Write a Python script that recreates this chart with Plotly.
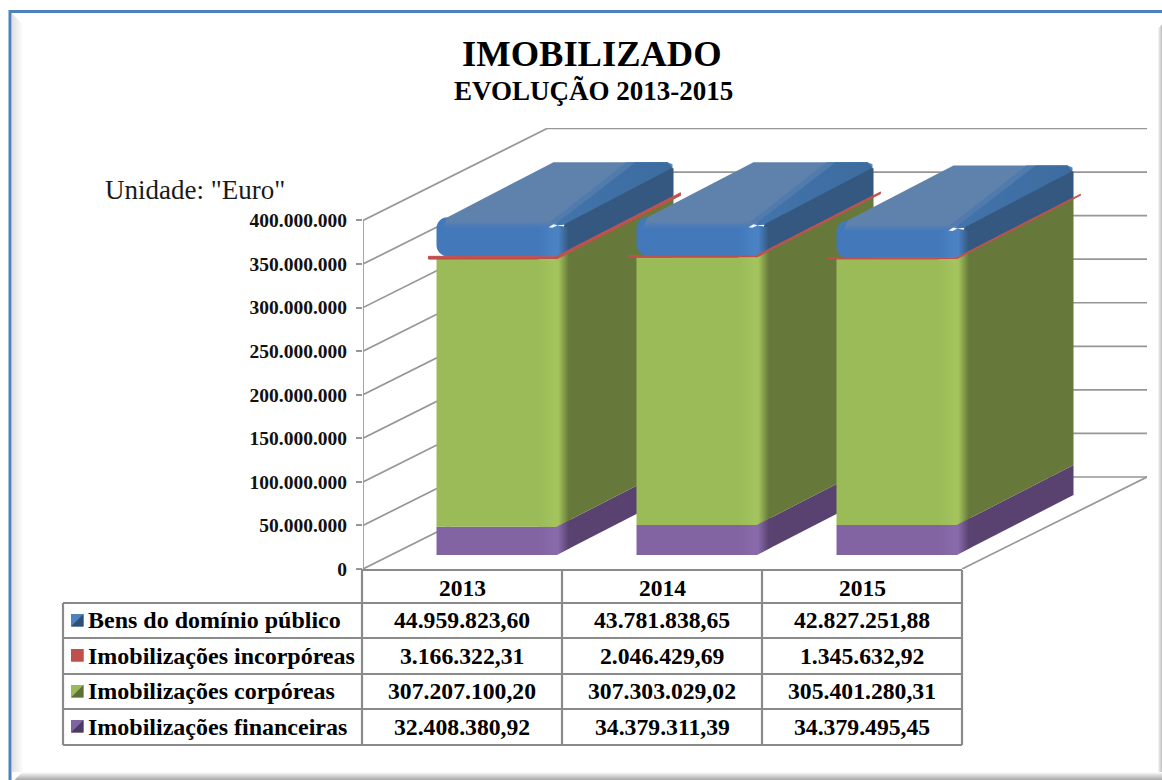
import plotly.graph_objects as go

# ---------- data ----------
years = ["2013", "2014", "2015"]
tick_values = [0, 50e6, 100e6, 150e6, 200e6, 250e6, 300e6, 350e6, 400e6]
tick_labels = ["0", "50.000.000", "100.000.000", "150.000.000", "200.000.000",
               "250.000.000", "300.000.000", "350.000.000", "400.000.000"]
series_names = ["Bens do domínio público", "Imobilizações incorpóreas",
                "Imobilizações corpóreas", "Imobilizações financeiras"]
bens_publicos = [44959823.60, 43781838.65, 42827251.88]
incorporeas = [3166322.31, 2046429.69, 1345632.92]
corporeas = [307207100.20, 307303029.02, 305401280.31]
financeiras = [32408380.92, 34379311.39, 34379495.45]

W, H = 1162, 780
FONT = "Liberation Serif"
GRID = "#969696"
TBL = "#8a8a8a"

# ---------- scale helpers (pixels -> axis units) ----------
PX_X = 200.0          # px per category
PX_M = 0.8713         # px per million
def ux(p): return p / PX_X
def uv(p): return p / PX_M * 1e6
def X(p): return p / W
def Y(p): return 1 - p / H

X_LEFT, X_RIGHT, Y_TOP, Y_BOT = 363, 1147, 128, 569
x_range = [-0.5, -0.5 + ux(X_RIGHT - X_LEFT)]
y_range = [0, uv(Y_BOT - Y_TOP)]

fig = go.Figure()

# ---------- walls / gridlines ----------
wall_dx, wall_dv = ux(184), uv(92)
gx, gy = [-0.5, -0.5, None], [0, 400e6, None]
for v in tick_values:
    gx += [-0.5, -0.5 + wall_dx, x_range[1], None]
    gy += [v, v + wall_dv, v + wall_dv, None]
gx += [-0.5 + ux(599), x_range[1], None]
gy += [0, wall_dv, None]
fig.add_trace(go.Scatter(x=gx, y=gy, mode="lines", line=dict(color=GRID, width=1.7),
                         hoverinfo="skip", showlegend=False))

# ---------- bars ----------
BAR_OFF = ux(33.5)      # front-left shift inside the category
BAR_W = ux(120)
FLOOR = uv(14)
dx, dv = ux(117), uv(60)
S = 0.513               # pixel slope of the depth direction

STYLES = {
    "fin": dict(front="#8264a3", light="#8869a9", side="#59426f"),
    "cor": dict(front="#9bbb59", light="#a3c35d", side="#67793a"),
    "bem": dict(front="#4379ba", light="#4a82c4", side="#34587f"),
}
RED = "#c0504d"

def poly(xs, ys, color, ax, gradient=None, kind="horizontal"):
    kw = dict(x=xs + xs[:1], y=ys + ys[:1], mode="lines", fill="toself",
              line=dict(width=0, color=color), hoverinfo="skip", showlegend=False,
              xaxis=ax[0], yaxis=ax[1])
    if gradient:
        kw["fillgradient"] = dict(type=kind, colorscale=gradient)
    else:
        kw["fillcolor"] = color
    return go.Scatter(**kw)

for i in range(3):
    n = i + 2
    ax = (f"x{n}", f"y{n}")
    cx = i + BAR_OFF
    L, R = cx - BAR_W / 2, cx + BAR_W / 2
    b0 = FLOOR
    b1 = b0 + financeiras[i]
    b2 = b1 + corporeas[i]
    b3 = b2 + incorporeas[i]
    b4 = b3 + bens_publicos[i]

    # real bars (front faces)
    for name, base, val, st in [("fin", b0, financeiras[i], STYLES["fin"]),
                                ("cor", b1, corporeas[i], STYLES["cor"]),
                                ("bem", b3, bens_publicos[i], STYLES["bem"])]:
        m = dict(color=st["front"], line=dict(width=0))
        if name == "bem":
            m["cornerradius"] = 11
        fig.add_trace(go.Bar(x=[cx], y=[val], base=[base], width=[BAR_W], marker=m,
                             xaxis=ax[0], yaxis=ax[1], hoverinfo="skip", showlegend=False))
    fig.add_trace(go.Bar(x=[R - ux(64)], y=[incorporeas[i]], base=[b2], width=[ux(128)],
                         marker=dict(color=RED, line=dict(width=1, color=RED)),
                         xaxis=ax[0], yaxis=ax[1], hoverinfo="skip", showlegend=False))

    # side faces
    for lo, hi, st in [(b0, b1, STYLES["fin"]), (b1, b3, STYLES["cor"])]:
        fig.add_trace(poly([R, R + dx, R + dx, R], [lo, lo + dv, hi + dv, hi], st["side"], ax))
    top_back = b4 + uv(55)

    # top face
    fig.add_trace(poly([L + ux(11), L + dx, R + dx - ux(6), R + dx - ux(1), R + dx - ux(1), R, L + ux(8)],
                       [b4, top_back, top_back, top_back - uv(2), top_back - uv(8), b4 - uv(8), b4 - uv(8)],
                       "#5f82ad", ax))
    # soft, then deeper band along the right of the top
    fig.add_trace(poly([R - ux(8), R + ux(70), R + dx - ux(6), R + dx - ux(1), R + ux(10), R],
                       [b4 - uv(6), top_back, top_back, top_back - uv(6), b4 - uv(7), b4 - uv(8)],
                       "#517bad", ax))
    fig.add_trace(poly([R, R + ux(79), R + dx - ux(6), R + dx - ux(1), R + ux(10), R],
                       [b4 - uv(6), top_back, top_back, top_back - uv(6), b4 - uv(7), b4 - uv(8)],
                       "#3f6fa6", ax,
                       gradient=[[0, "#4273aa"], [1, "#3c6c9f"]]))
    # soft front/top transition
    fig.add_trace(poly([L + ux(5), R + ux(1), R + ux(1), L + ux(11)],
                       [b4 - uv(11), b4 - uv(11), b4 - uv(5), b4 - uv(5)],
                       "#4f7cb4", ax,
                       gradient=[[0, "#4379ba"], [1, "#5a80af"]], kind="vertical"))
    # blue side face (below the band)
    fig.add_trace(poly([R, R + dx, R + dx, R + dx - ux(2), R + ux(8)],
                       [b3, b3 + dv, top_back - uv(6), top_back - uv(6), b4 - uv(7)],
                       STYLES["bem"]["side"], ax))

    # rounded vertical edge
    e = 14
    W_L = ux(18)
    grad = lambda st: [[0, st["front"]], [0.5, st["light"]], [0.62, st["light"]],
                       [0.95, st["side"]], [1, st["side"]]]
    st = STYLES["fin"]
    fig.add_trace(poly([R - W_L, R, R + ux(e), R + ux(e), R, R - W_L],
                       [b1, b1, b1 + uv(e * S), b0 + uv(e * S), b0, b0], st["front"], ax, grad(st)))
    st = STYLES["cor"]
    fig.add_trace(poly([R - W_L, R, R, R + ux(e), R + ux(e), R, R - W_L],
                       [b2, b2, b3, b3 + uv(e * S), b1 + uv(e * S), b1, b1], st["front"], ax, grad(st)))
    st = STYLES["bem"]
    hi = b4 - uv(10)
    fig.add_trace(poly([R - W_L, R, R + ux(e - 2), R + ux(e), R + ux(e), R, R - W_L],
                       [hi, hi + uv(2), hi - uv(0), hi - uv(3), b3 + uv(e * S), b3, b3],
                       st["front"], ax, grad(st)))

    # red plate on the side
    rdx, rdv = ux(124), uv(124 * S)
    fig.add_trace(poly([R, R + rdx, R + rdx, R], [b2, b2 + rdv, b3 + rdv, b3], RED, ax))
    fig.data[-1].line.width = 0.9

    # specular highlight
    hx, hy = R - ux(1), b4 - uv(7)
    fig.add_trace(poly([hx - ux(7), hx - ux(2), hx + ux(2), hx - ux(3)],
                       [hy - uv(3), hy, hy - uv(1), hy - uv(3.5)], "#f4f9ff", ax))

# ---------- table ----------
shapes = []
def hline(y, x0, x1):
    shapes.append(dict(type="line", xref="paper", yref="paper", x0=X(x0), x1=X(x1), y0=Y(y), y1=Y(y),
                       line=dict(color=TBL, width=2.2)))
def vline(x, y0, y1):
    shapes.append(dict(type="line", xref="paper", yref="paper", x0=X(x), x1=X(x), y0=Y(y0), y1=Y(y1),
                       line=dict(color=TBL, width=2.2)))

# frame bevels
for k in range(12):
    g = 226 + int(k * 29 / 11)
    shapes.append(dict(type="rect", xref="paper", yref="paper", x0=X(12 + k), x1=X(13 + k),
                       y0=Y(14 + k), y1=Y(772), line=dict(width=0), fillcolor=f"rgb({g},{g},{g})"))
for k in range(8):
    g = 250 - k * 11
    shapes.append(dict(type="rect", xref="paper", yref="paper", x0=X(22 - k), x1=X(1162),
                       y0=Y(772 + k), y1=Y(773 + k), line=dict(width=0), fillcolor=f"rgb({g},{g},{g})"))
for k in range(4):
    g = 240 - k * 14
    shapes.append(dict(type="rect", xref="paper", yref="paper", x0=X(1158 + k), x1=X(1159 + k),
                       y0=Y(28 - k), y1=Y(772), line=dict(width=0), fillcolor=f"rgb({g},{g},{g})"))
shapes.append(dict(type="path", xref="paper", yref="paper", layer="above",
                   path=f"M {X(10)} {Y(780)} L {X(10)} {Y(11.5)} L {X(1162)} {Y(11.5)}",
                   line=dict(color="#4f81bd", width=3)))

row_y = [603, 638, 674, 709, 745]
col_x = [362, 562, 762, 962]
hline(570, 362, 962)
for y in row_y:
    hline(y, 63, 962)
for x in col_x:
    vline(x, 570, 745)
vline(63, 603, 745)

key_colors = [("#4f81bd", "#2f4f75"), ("#c0504d", "#c0504d"), ("#9bbb59", "#5d6f35"), ("#8064a2", "#4c3b61")]
for r, (c1, c2) in enumerate(key_colors):
    x0, y0 = 71, row_y[r] + 11
    s = 12.5
    shapes.append(dict(type="rect", xref="paper", yref="paper", x0=X(x0), x1=X(x0 + s), y0=Y(y0), y1=Y(y0 + s),
                       line=dict(width=0), fillcolor=c1))
    shapes.append(dict(type="path", xref="paper", yref="paper",
                       path=f"M {X(x0)} {Y(y0 + s)} L {X(x0 + s)} {Y(y0)} L {X(x0 + s)} {Y(y0 + s)} Z",
                       line=dict(width=0), fillcolor=c2))

# ---------- text ----------
def fmt(v):
    return f"{v:,.2f}".replace(",", "#").replace(".", ",").replace("#", ".")

ann = []
def text(s, x, y, size, anchor="center", bold=True, color="#000000"):
    ann.append(dict(text=f"<b>{s}</b>" if bold else s, xref="paper", yref="paper", x=X(x), y=Y(y),
                    xanchor=anchor, yanchor="middle", showarrow=False,
                    font=dict(family=FONT, size=size, color=color)))

text("IMOBILIZADO", 592, 54, 36.5)
text("EVOLUÇÃO 2013-2015", 593, 91, 27)
text('Unidade: "Euro"', 103, 190, 27, anchor="left", bold=False, color="#1a1a1a")

for c, y in enumerate(years):
    text(y, (col_x[c] + col_x[c + 1]) / 2, 587.5, 23.5)

rows = [bens_publicos, incorporeas, corporeas, financeiras]
for r, (name, vals) in enumerate(zip(series_names, rows)):
    yc = (row_y[r] + row_y[r + 1]) / 2 - 0.5
    text(name, 86, yc, 24, anchor="left")
    for c, v in enumerate(vals):
        text(fmt(v), (col_x[c] + col_x[c + 1]) / 2, yc, 23.7)

# ---------- layout ----------
layout_axes = dict(
    xaxis=dict(domain=[X(X_LEFT), X(X_RIGHT)], range=x_range, visible=False, fixedrange=True),
    yaxis=dict(domain=[Y(Y_BOT), Y(Y_TOP)], range=y_range, tickmode="array", tickvals=tick_values,
               ticktext=tick_labels, ticks="outside", ticklen=6, tickcolor=GRID, tickwidth=1.7,
               showgrid=False, zeroline=False, showline=False, ticklabelstandoff=5,
               automargin=False,
               tickfont=dict(family=FONT, size=19.5, color="#111111", weight=700), fixedrange=True),
)
for n in (2, 3, 4):
    layout_axes[f"xaxis{n}"] = dict(domain=[X(X_LEFT), X(X_RIGHT)], range=x_range, visible=False,
                                    overlaying="x", anchor=f"y{n}", fixedrange=True)
    layout_axes[f"yaxis{n}"] = dict(domain=[Y(Y_BOT), Y(Y_TOP)], range=y_range, visible=False,
                                    overlaying="y", anchor=f"x{n}", fixedrange=True)

fig.update_layout(width=W, height=H, margin=dict(l=0, r=0, t=0, b=0, autoexpand=False), paper_bgcolor="white",
                  plot_bgcolor="rgba(0,0,0,0)", barmode="overlay", showlegend=False,
                  shapes=shapes, annotations=ann, **layout_axes)

fig.write_html("out.html", config=dict(displayModeBar=False),
               post_script="document.body.style.margin='0';document.documentElement.style.overflow='hidden';")
